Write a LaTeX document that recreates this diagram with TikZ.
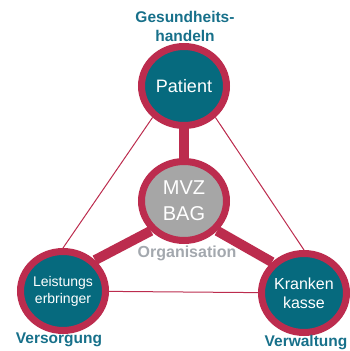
\documentclass[tikz,border=0pt]{standalone}
\usepackage{fontspec}
\setmainfont{Liberation Sans}
\usetikzlibrary{shapes.geometric}
\pgfdeclarelayer{links}
\pgfsetlayers{links,main}
\definecolor{ringred}{HTML}{BC2C4E}
\definecolor{petrol}{HTML}{066A7E}
\definecolor{labelteal}{HTML}{17708A}
\definecolor{corefill}{HTML}{A6A6A6}
\definecolor{orggray}{HTML}{A3A8AE}
\begin{document}
\begin{tikzpicture}[x=1pt,y=-1pt,
  actor/.style={ellipse, draw=ringred, line width=7pt, fill=petrol,
    minimum width=85pt, minimum height=79pt, inner sep=0pt,
    text=white, align=center},
  core/.style={actor, fill=corefill},
  thinlink/.style={draw=ringred, line width=1pt},
  thicklink/.style={draw=ringred, line width=10pt},
  rolelabel/.style={text=labelteal, font=\bfseries\fontsize{15.5}{19}\selectfont, align=center}
]
\useasboundingbox (0,0) rectangle (349,351);

% the four actors
\node[actor, font=\fontsize{18}{22}\selectfont] (patient) at (184,86) {Patient};
\node[core, font=\fontsize{20}{26}\selectfont] (mvz) at (184,201) {MVZ\\BAG};
\node[actor, font=\fontsize{14}{17}\selectfont] (leist) at (63,291) {Leistungs\\erbringer};
\node[actor, font=\fontsize{16}{19}\selectfont] (kasse) at (304,293) {Kranken\\kasse};

% connectors, kept behind the actors
\begin{pgfonlayer}{links}
  \draw[thinlink] (patient.-135) -- (leist.north);
  \draw[thinlink] (patient.-45) -- (kasse.north);
  \draw[thinlink] (leist.center) -- (kasse.center);
  \draw[thicklink] (patient.center) -- (mvz.center);
  \draw[thicklink] (mvz.-138) -- (leist.44);
  \draw[thicklink] (mvz.-42) -- (kasse.136);
\end{pgfonlayer}

% role labels
\node[rolelabel] (health) at (185,26) {Gesundheits-\\handeln};
\node[rolelabel, text=orggray, font=\bfseries\fontsize{16}{19}\selectfont] (org) at (187,253) {Organisation};
\node[rolelabel] (supply) at (59,340) {Versorgung};
\node[rolelabel] (admin) at (306,343) {Verwaltung};
\end{tikzpicture}
\end{document}
